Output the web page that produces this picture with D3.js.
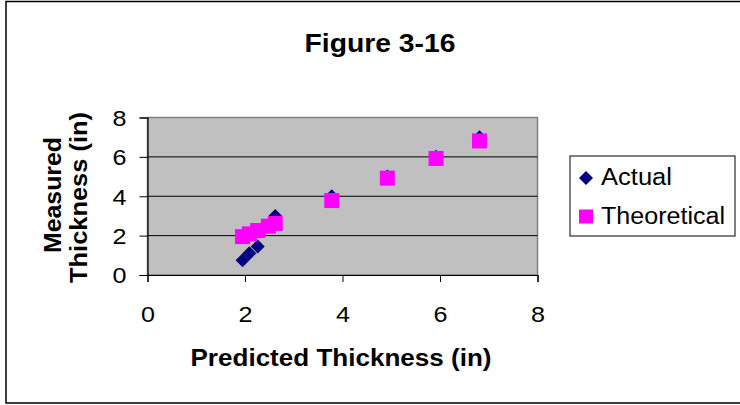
<!DOCTYPE html>
<html><head><meta charset="utf-8">
<script src="https://cdn.jsdelivr.net/npm/d3@7"></script>
<style>body{margin:0;background:#fff}svg{display:block}text{font-family:"Liberation Sans",Arial,sans-serif}</style>
</head><body><svg id="c" width="740" height="405"></svg>
<script>
const predicted = [1.95, 2.09, 2.26, 2.48, 2.62, 3.78, 4.92, 5.92, 6.81];
const actual = [0.75, 1.1, 1.45, 2.5, 3.0, 4.0, 5.0, 6.0, 7.0];
const theoretical = [1.95, 2.09, 2.26, 2.48, 2.62, 3.78, 4.92, 5.92, 6.81];
const xTicks = [0, 2, 4, 6, 8];
const yTicks = [0, 2, 4, 6, 8];
const seriesNames = ["Actual", "Theoretical"];

const svg = d3.select("#c");
svg.append("rect").attr("x", 6).attr("y", 1.5).attr("width", 740).attr("height", 401.5)
  .attr("fill", "#fff").attr("stroke", "#000").attr("stroke-width", 1.5);

const L = 147.5, R = 537.5, T = 117.5, B = 275;
const x = d3.scaleLinear().domain([0, 8]).range([L, R]);
const y = d3.scaleLinear().domain([0, 8]).range([B, T]);

svg.append("rect").attr("x", L).attr("y", T).attr("width", R - L).attr("height", B - T)
  .attr("fill", "#C0C0C0").attr("stroke", "#808080").attr("stroke-width", 1.5);

svg.append("g").selectAll("line").data(yTicks.filter(d => d > 0)).join("line")
  .attr("x1", L).attr("x2", R).attr("y1", d => y(d)).attr("y2", d => y(d))
  .attr("stroke", d => d === 8 ? "#808080" : "#000").attr("stroke-width", 1);

const xa = svg.append("g").attr("transform", `translate(0,${B})`)
  .call(d3.axisBottom(x).tickValues(xTicks).tickSize(7).tickPadding(20).tickFormat(d3.format("d")));
const ya = svg.append("g").attr("transform", `translate(${L},0)`)
  .call(d3.axisLeft(y).tickValues(yTicks).tickSize(8).tickPadding(13).tickFormat(d3.format("d")));
[xa, ya].forEach(g => {
  g.select(".domain").attr("stroke", "#000").attr("stroke-width", 1.2);
  g.selectAll(".tick line").attr("stroke", "#000");
  g.selectAll(".tick text").attr("font-size", 22).attr("fill", "#000")
    .attr("textLength", 14).attr("lengthAdjust", "spacingAndGlyphs")
    .style("font-family", '"Liberation Sans", Arial, sans-serif');
});
xa.selectAll(".tick text").attr("y", 47).attr("dy", null);
ya.selectAll(".tick text").attr("dy", "0.36em");

const diamond = d3.symbol().type(d3.symbolSquare).size(98);
const plot = svg.append("g");
plot.selectAll("path.a").data(predicted).join("path").attr("class", "a")
  .attr("transform", (d, i) => `translate(${x(d)},${y(actual[i])}) rotate(45)`)
  .attr("d", diamond).attr("fill", "#000080");
plot.selectAll("rect.t").data(predicted).join("rect").attr("class", "t")
  .attr("x", (d) => x(d) - 7.5).attr("y", (d, i) => y(theoretical[i]) - 7.5)
  .attr("width", 15).attr("height", 15).attr("fill", "#FF00FF");

svg.append("text").attr("x", 380).attr("y", 52).attr("text-anchor", "middle")
  .attr("font-size", 25).attr("font-weight", "bold")
  .attr("textLength", 151).attr("lengthAdjust", "spacingAndGlyphs").text("Figure 3-16");

svg.append("text").attr("x", 341).attr("y", 366).attr("text-anchor", "middle")
  .attr("font-size", 23).attr("font-weight", "bold")
  .attr("textLength", 301).attr("lengthAdjust", "spacingAndGlyphs").text("Predicted Thickness (in)");

svg.append("text").attr("transform", `translate(61,195) rotate(-90)`)
  .attr("text-anchor", "middle").attr("font-size", 23).attr("font-weight", "bold")
  .attr("textLength", 116).attr("lengthAdjust", "spacingAndGlyphs").text("Measured");
svg.append("text").attr("transform", `translate(86.5,197.5) rotate(-90)`)
  .attr("text-anchor", "middle").attr("font-size", 23).attr("font-weight", "bold")
  .attr("textLength", 171).attr("lengthAdjust", "spacingAndGlyphs").text("Thickness (in)");

const lg = svg.append("g");
lg.append("rect").attr("x", 570).attr("y", 156).attr("width", 165).attr("height", 80)
  .attr("fill", "#fff").attr("stroke", "#000").attr("stroke-width", 1);
const legendLens = [71, 124];
const items = lg.selectAll("g").data(seriesNames).join("g")
  .attr("transform", (d, i) => `translate(586,${178 + i * 38.5})`);
items.each(function(d, i) {
  const g = d3.select(this);
  if (i === 0) g.append("path").attr("d", diamond).attr("transform", "rotate(45)").attr("fill", "#000080");
  else g.append("rect").attr("x", -7).attr("y", -7).attr("width", 14).attr("height", 14).attr("fill", "#FF00FF");
  g.append("text").attr("x", 15).attr("y", i === 0 ? 7 : 7.5).attr("font-size", 23)
    .attr("textLength", legendLens[i]).attr("lengthAdjust", "spacingAndGlyphs").text(d);
});
</script></body></html>
